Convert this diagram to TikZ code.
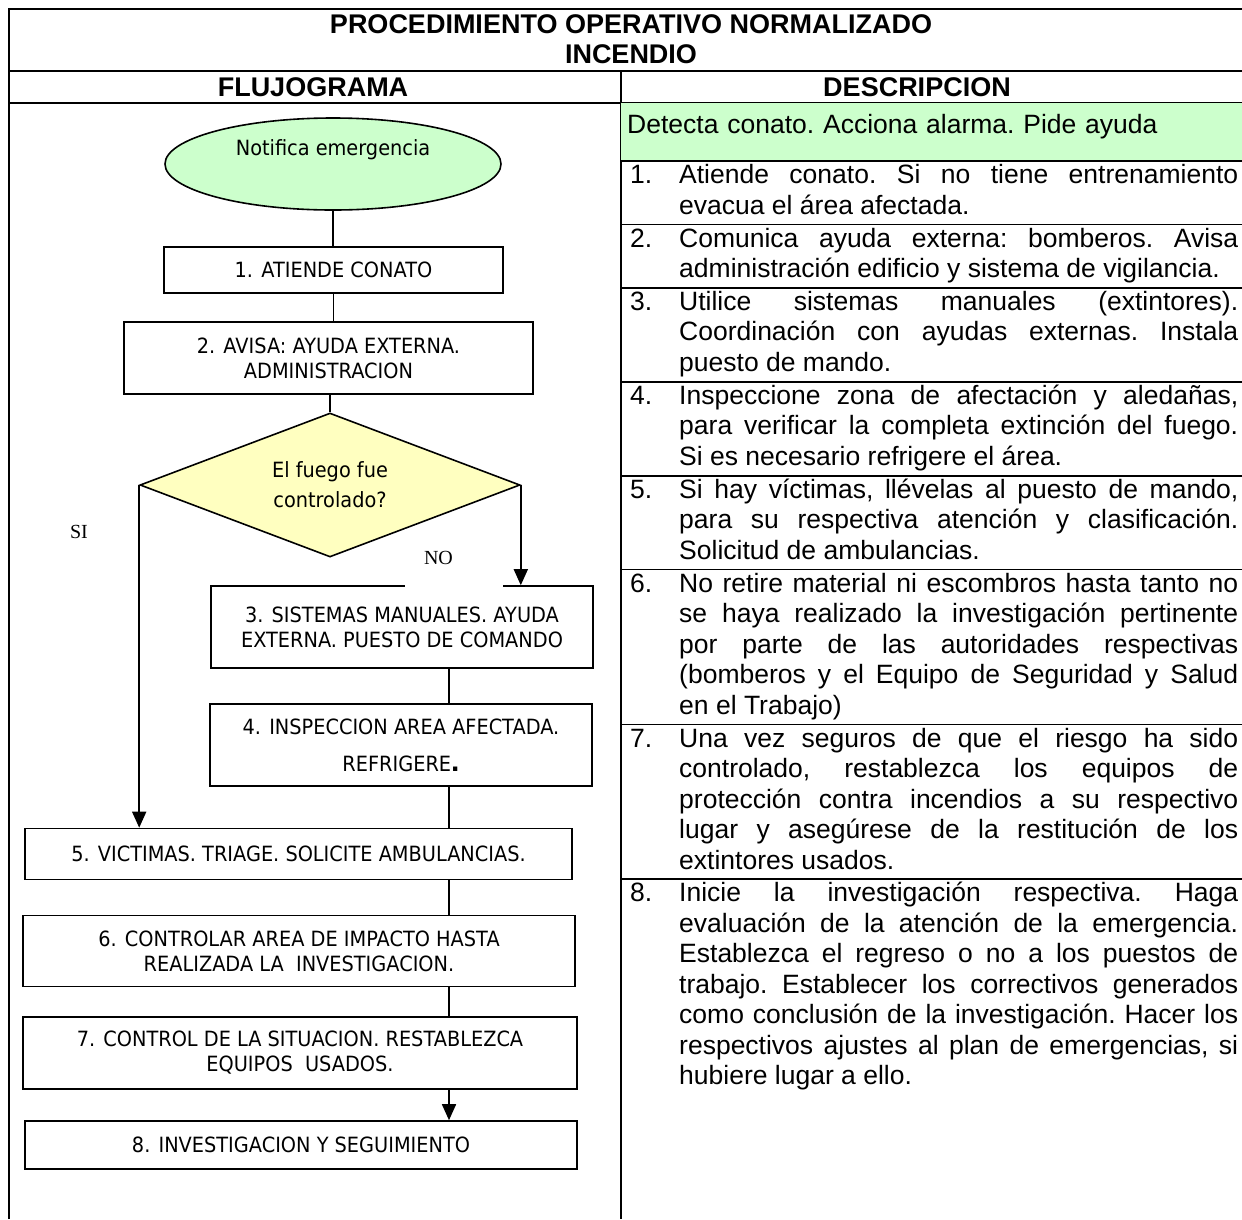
\documentclass[tikz,border=0pt]{standalone}
\usepackage{fontspec}
\setmainfont{Liberation Sans}
\newfontfamily\flowfont{DejaVu Sans}[FakeStretch=0.92]
\newfontfamily\sinofont{Liberation Serif}
\usetikzlibrary{shapes.geometric, arrows.meta, positioning}
\definecolor{verdeclaro}{RGB}{204,255,204}
\definecolor{amarilloclaro}{RGB}{255,255,192}
\newcommand{\flowtext}{\flowfont\fontsize{21}{25}\selectfont}
\newcommand{\desctext}{\fontsize{26.5}{30.5}\selectfont\frenchspacing}
\newcommand{\headtext}{\bfseries\fontsize{27}{30}\selectfont}
\newcommand{\sinotext}{\sinofont\fontsize{20}{24}\selectfont}
\newcommand{\paso}[2]{\hbox to 49pt{\strut#1\hfil}\parbox[t]{559pt}{\spaceskip=0pt\xspaceskip=0pt\rightskip=0pt\baselineskip=30.5pt\hyphenpenalty=10000\tolerance=10000\strut#2\strut}}
\tikzstyle{startstop} = [ellipse, minimum width=336pt, minimum height=92pt, inner sep=0pt, draw=black, line width=1.6pt, fill=verdeclaro, font=\flowtext]
\tikzstyle{process} = [rectangle, draw=black, line width=1.6pt, text centered, align=center, inner sep=0pt, font=\flowtext]
\tikzstyle{decision} = [diamond, shape aspect=2.64, minimum width=380pt, minimum height=144pt, inner sep=0pt, draw=black, line width=1.6pt, fill=amarilloclaro, align=center, font=\flowtext]
\tikzstyle{conn} = [line width=1.6pt]
\tikzstyle{arrow} = [line width=1.6pt, -{Triangle[length=16pt,width=14pt]}]
\tikzstyle{tablerule} = [line width=1.8pt]
\tikzstyle{detbox} = [anchor=north west, text width=609pt, inner xsep=6pt, inner ysep=0pt, fill=verdeclaro, align=left, font=\desctext]
\tikzstyle{descrow} = [text width=608pt, inner xsep=0pt, inner ysep=1pt, align=justify, font=\desctext]

\begin{document}
\begin{tikzpicture}[x=1pt, y=-1pt]
\useasboundingbox (0,0) rectangle (1242,1219);
% Table frame
\coordinate (colL) at (621,103);
\coordinate (colR) at (1242,103);
\coordinate (trunk) at (449,0);
\draw [tablerule] (9,1219) -- (9,9) -- (1242,9);
\draw [tablerule] (9,71) -- (1242,71);
\draw [tablerule] (9,103) -- (1242,103);
\draw [tablerule] (621,71) -- (621,1219);
\node (titulo) [font=\headtext, align=center] at (631,39) {PROCEDIMIENTO OPERATIVO NORMALIZADO\\INCENDIO};
\node (flujograma) [font=\headtext] at (313,87) {FLUJOGRAMA};
\node (descripcion) [font=\headtext] at (917,87) {DESCRIPCION};

% Define nodes
\node (notifica) [startstop] at (333,164) {\raisebox{9pt}[0pt][0pt]{Notifica emergencia}};
\node (atiende) [process, minimum width=339pt, minimum height=46pt] at (333.5,270) {1. ATIENDE CONATO};
\node (avisa) [process, minimum width=409pt, minimum height=72pt] at (328.5,358) {2. AVISA: AYUDA EXTERNA.\\ADMINISTRACION};
\node (fuego) [decision] at (330,485) {El fuego fue\\[5pt]controlado?};
\node (sistemas) [process, minimum width=382pt, minimum height=82pt] at (402,627) {3. SISTEMAS MANUALES. AYUDA\\EXTERNA. PUESTO DE COMANDO};
\node (inspeccion) [process, minimum width=382pt, minimum height=82pt] at (401,745) {4. INSPECCION AREA AFECTADA.\\[12pt]REFRIGERE{\fontsize{30}{30}\selectfont\rmfamily\bfseries .}};
\node (victimas) [process, minimum width=547pt, minimum height=51pt] at (298.5,854) {5. VICTIMAS. TRIAGE. SOLICITE AMBULANCIAS.};
\node (controlar) [process, minimum width=552pt, minimum height=71pt] at (299,951) {6. CONTROLAR AREA DE IMPACTO HASTA\\REALIZADA LA\ \ INVESTIGACION.};
\node (control) [process, minimum width=554pt, minimum height=72pt] at (300,1053) {7. CONTROL DE LA SITUACION. RESTABLEZCA\\EQUIPOS\ \ USADOS.};
\node (investigacion) [process, minimum width=552pt, minimum height=48pt] at (301,1145) {8. INVESTIGACION Y SEGUIMIENTO};
\node (si) [font=\sinotext] at (79,532) {SI};
\node (no) [fill=white, text width=98pt, minimum height=58pt, inner sep=0pt, align=left, font=\sinotext] at (454,558) {\hspace*{19pt}NO};

% Connect nodes with arrows
\draw [conn] (notifica) -- (notifica |- atiende.north);
\draw [conn] (atiende.south) -- (atiende.south |- avisa.north);
\draw [conn] (fuego.north |- avisa.south) -- (fuego.north);
\draw [arrow] (fuego.west) -- (fuego.west |- victimas.north);
\draw [arrow] (fuego.east) -- (fuego.east |- sistemas.north);
\draw [conn] (sistemas.south -| trunk) -- (inspeccion.north -| trunk);
\draw [conn] (inspeccion.south -| trunk) -- (victimas.north -| trunk);
\draw [conn] (victimas.south -| trunk) -- (controlar.north -| trunk);
\draw [conn] (controlar.south -| trunk) -- (control.north -| trunk);
\draw [arrow] (control.south -| trunk) -- (investigacion.north -| trunk);

% Description column
\node (detecta) [detbox] at (colL) {\rule{0pt}{30pt}Detecta conato. Acciona alarma. Pide ayuda\\[-12pt]\strut};
\node (d1) [descrow, below right=0pt and 9pt of detecta.south west] {\paso{1.}{Atiende conato. Si no tiene entrenamiento\linebreak evacua el área afectada.}};
\node (d2) [descrow, below=0pt of d1] {\paso{2.}{Comunica ayuda externa: bomberos. Avisa\linebreak administración edificio y sistema de vigilancia.}};
\node (d3) [descrow, below=0pt of d2] {\paso{3.}{Utilice sistemas manuales (extintores).\linebreak Coordinación con ayudas externas. Instala\linebreak puesto de mando.}};
\node (d4) [descrow, below=0pt of d3] {\paso{4.}{Inspeccione zona de afectación y aledañas,\linebreak para verificar la completa extinción del fuego.\linebreak Si es necesario refrigere el área.}};
\node (d5) [descrow, below=0pt of d4] {\paso{5.}{Si hay víctimas, llévelas al puesto de mando,\linebreak para su respectiva atención y clasificación.\linebreak Solicitud de ambulancias.}};
\node (d6) [descrow, below=0pt of d5] {\paso{6.}{No retire material ni escombros hasta tanto no\linebreak se haya realizado la investigación pertinente\linebreak por parte de las autoridades respectivas\linebreak (bomberos y el Equipo de Seguridad y Salud\linebreak en el Trabajo)}};
\node (d7) [descrow, below=0pt of d6] {\paso{7.}{Una vez seguros de que el riesgo ha sido\linebreak controlado, restablezca los equipos de\linebreak protección contra incendios a su respectivo\linebreak lugar y asegúrese de la restitución de los\linebreak extintores usados.}};
\node (d8) [descrow, below=0pt of d7] {\paso{8.}{Inicie la investigación respectiva. Haga\linebreak evaluación de la atención de la emergencia.\linebreak Establezca el regreso o no a los puestos de\linebreak trabajo. Establecer los correctivos generados\linebreak como conclusión de la investigación. Hacer los\linebreak respectivos ajustes al plan de emergencias, si\linebreak hubiere lugar a ello.}};
\draw [tablerule] (colL |- d1.north) -- (colR |- d1.north);
\draw [tablerule] (colL |- d2.north) -- (colR |- d2.north);
\draw [tablerule] (colL |- d3.north) -- (colR |- d3.north);
\draw [tablerule] (colL |- d4.north) -- (colR |- d4.north);
\draw [tablerule] (colL |- d5.north) -- (colR |- d5.north);
\draw [tablerule] (colL |- d6.north) -- (colR |- d6.north);
\draw [tablerule] (colL |- d7.north) -- (colR |- d7.north);
\draw [tablerule] (colL |- d8.north) -- (colR |- d8.north);
\end{tikzpicture}
\end{document}
